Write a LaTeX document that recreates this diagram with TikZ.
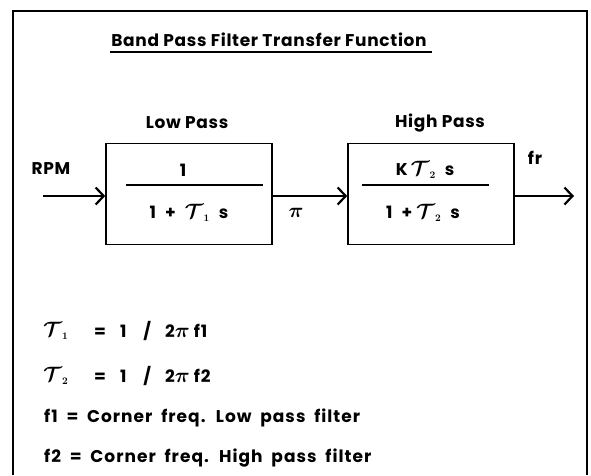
\documentclass[tikz,border=0pt]{standalone}
\usepackage{bm}
\usepackage{fontspec}
\setmainfont{Poppins}[LetterSpace=4]
\newfontfamily\wideface{Poppins}[LetterSpace=6,WordSpace=1.9]
\usetikzlibrary{arrows.meta,positioning,calc}

\newcommand{\tauc}[1]{\mbox{\fontsize{20}{22}\selectfont$\bm{\mathcal{T}}_{\scriptscriptstyle\bm{#1}}$}}
\newcommand{\bpi}{\mbox{\fontsize{21}{22}\selectfont$\bm{\pi}$}}
\newcommand{\gap}{\hspace{9pt}}

\tikzset{
  filterbox/.style={draw,line width=1.6pt,minimum width=166pt,minimum height=101pt,inner sep=0pt},
  lbl/.style={font=\fontsize{17}{20}\selectfont\bfseries,inner sep=0pt},
  deflbl/.style={lbl,font=\wideface\fontsize{17}{20}\selectfont\bfseries,anchor=west},
  flow/.style={line width=2.6pt,-{Straight Barb[length=8pt,width=17pt,line width=2.2pt]}},
  fracbar/.style={line width=2.6pt}
}

\begin{document}
\begin{tikzpicture}[x=1pt,y=-1pt]
\useasboundingbox (0,0) rectangle (591,475);
\fill[white] (0,0) rectangle (591,475);
% outer frame, open at the bottom
\draw[line width=2.8pt] (13,475) -- (13,11) -- (587,11) -- (587,475);

\node[lbl] (title) at (269,40) {Band Pass Filter Transfer Function};
\coordinate (ulL) at (110,52);
\coordinate (ulR) at (432,52);
\draw[line width=2.4pt] (ulL) -- (ulR);

% the two blocks
\node[filterbox] (low) at (189,194) {};
\node[filterbox] (high) at (431,194) {};
\node[lbl] at (187,123) {Low Pass};
\node[lbl] at (440,123) {High Pass};

\draw[fracbar] ($(low.west)+(21,-9)$) -- ($(low.east)+(-10,-9)$);
\node[lbl] at ($(low.center)+(-6,-24)$) {1};
\node[lbl] at ($(low.center)+(0,19)$) {1\gap+\gap\tauc{1}\gap s};

\draw[fracbar] ($(high.west)+(15,-9)$) -- ($(high.east)+(-26,-9)$);
\node[lbl] at ($(high.center)+(-6,-24)$) {K\hspace{3pt}\tauc{2}\gap s};
\node[lbl] at ($(high.center)+(-8,19)$) {1\gap+\hspace{4pt}\tauc{2}\gap s};

% signal flow
\coordinate (in) at (43,196);
\coordinate (out) at (574,196);
\node[lbl] (rpm) at (51,169) {RPM};
\node[lbl] (fr) at (535,158) {fr};
\node[lbl] (pi) at (296,213) {\bpi};
\draw[flow] (in) -- (in -| low.west);
\draw[flow] (low.east |- in) -- (high.west |- in);
\draw[flow] (high.east |- in) -- (out);

% definitions
\node[deflbl] (t1) at (43,331) {\tauc{1}};
\node[deflbl] (t1eq) at (94,331) {=\hspace{14pt}1\hspace{17pt}/\hspace{14pt}2\bpi\hspace{4pt}f1};
\node[deflbl] (t2) at (43,376) {\tauc{2}};
\node[deflbl] (t2eq) at (94,376) {=\hspace{14pt}1\hspace{17pt}/\hspace{14pt}2\bpi\hspace{4pt}f2};
\node[deflbl] (f1) at (44,418) {f1 = Corner freq. Low pass filter};
\node[deflbl] (f2) at (44,458) {f2 = Corner freq. High pass filter};
\end{tikzpicture}
\end{document}
